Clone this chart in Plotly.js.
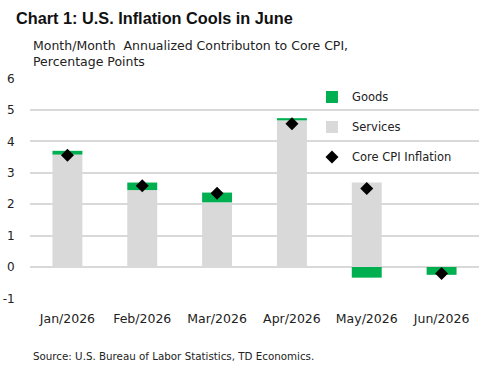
<!DOCTYPE html>
<html>
<head>
<meta charset="utf-8">
<script src="https://cdn.plot.ly/plotly-3.0.1.min.js"></script>
<style>html,body{margin:0;padding:0;background:#fff;}#chart{width:496px;height:370px;}</style>
</head>
<body>
<div id="chart"></div>
<script>
const months = ["Jan/2026","Feb/2026","Mar/2026","Apr/2026","May/2026","Jun/2026"];
const services = [3.58, 2.45, 2.06, 4.67, 2.69, 0.0];
const goods = [0.12, 0.24, 0.31, 0.07, -0.34, -0.25];
const coreCPI = [3.56, 2.59, 2.35, 4.56, 2.50, -0.21];
const yTicks = [-1, 0, 1, 2, 3, 4, 5, 6];

const FONT = "DejaVu Sans, sans-serif";
const TFONT = "Liberation Sans, Arial, sans-serif";
const GREEN = "#00b050";
const GRAY = "#d9d9d9";

const traces = [
  {type:"bar", name:"Services", x:months, y:services, marker:{color:GRAY},
   legendgroup:"s", legendrank:2, hoverinfo:"skip"},
  {type:"bar", name:"Goods", x:months, y:goods, marker:{color:GREEN},
   legendgroup:"g", legendrank:1, hoverinfo:"skip"},
  {type:"scatter", mode:"markers", name:"Core CPI Inflation", x:months, y:coreCPI,
   marker:{symbol:"diamond", size:10, color:"#000"}, legendgroup:"c", legendrank:3, hoverinfo:"skip"}
];

const layout = {
  width:496, height:370,
  margin:{l:30, r:17, t:78, b:71},
  paper_bgcolor:"#fff", plot_bgcolor:"#fff",
  font:{family:FONT, size:12, color:"#222"},
  barmode:"relative", bargap:0.6,
  showlegend:true,
  legend:{x:0.628, xanchor:"left", y:0.98, yanchor:"top", bgcolor:"rgba(0,0,0,0)",
          font:{family:FONT, size:11.5, color:"#222"}, tracegroupgap:11, traceorder:"grouped"},
  title:{text:"<b>Chart 1: U.S. Inflation Cools in June</b>", x:16/496, xref:"container", xanchor:"left",
         y:(370-18)/370, yref:"container", yanchor:"middle",
         font:{family:TFONT, size:16.3, color:"#111"}},
  xaxis:{type:"category", showgrid:false, zeroline:false, showline:false,
         ticks:"outside", ticklen:8, tickcolor:"rgba(0,0,0,0)",
         tickfont:{family:FONT, size:12.5, color:"#222"}},
  yaxis:{range:[-1.02, 6.02], tickvals:yTicks, ticktext:yTicks.map(String),
         showgrid:true, gridcolor:GRAY, gridwidth:2,
         zeroline:true, zerolinecolor:GRAY, zerolinewidth:2, showline:false,
         ticks:"outside", ticklen:12, tickcolor:"rgba(0,0,0,0)",
         tickfont:{family:FONT, size:12, color:"#222"}},
  annotations:[
    {text:"Month/Month  Annualized Contributon to Core CPI,<br>Percentage Points", xref:"paper", yref:"paper",
     x:(31-30)/449, y:(299.3-36)/221.2, xanchor:"left", yanchor:"top", align:"left", showarrow:false,
     font:{family:FONT, size:12.5, color:"#222"}},
    {text:"Source: U.S. Bureau of Labor Statistics, TD Economics.", xref:"paper", yref:"paper",
     x:(31-30)/449, y:(299.3-356)/221.2, xanchor:"left", yanchor:"middle", align:"left", showarrow:false,
     font:{family:FONT, size:10.3, color:"#222"}}
  ]
};

Plotly.newPlot("chart", traces, layout, {displayModeBar:false, staticPlot:true});
</script>
</body>
</html>
